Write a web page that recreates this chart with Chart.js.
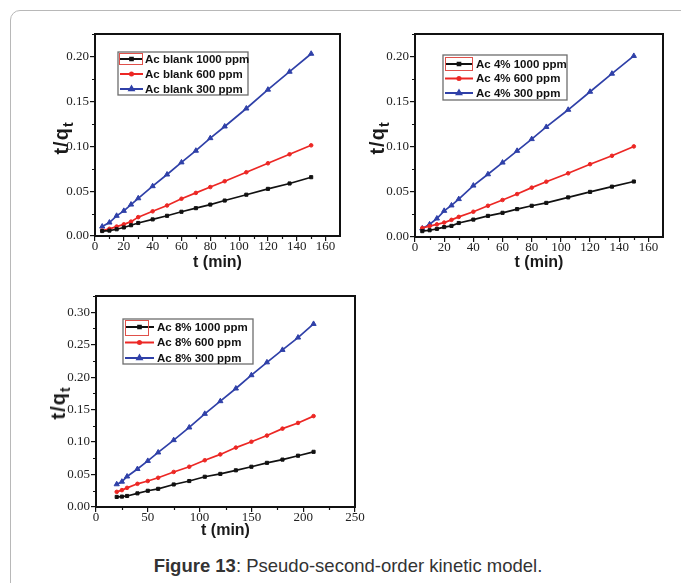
<!DOCTYPE html>
<html>
<head>
<meta charset="utf-8">
<script src="https://cdn.jsdelivr.net/npm/chart.js@4/dist/chart.umd.min.js"></script>
<style>
  html, body { margin: 0; padding: 0; background: #fff; }
  body { width: 681px; height: 583px; position: relative; overflow: hidden; font-family: "Liberation Sans", Arial, sans-serif; }
  .frame { position: absolute; left: 10px; top: 10px; width: 700px; height: 600px; border: 1px solid #b8b8b8; border-radius: 10px; }
  .panel { position: absolute; }
  .panel canvas { display: block; }
  .ytitle { position: absolute; transform: translate(-50%, -50%) rotate(-90deg); font-weight: bold; font-size: 20px; color: #1a1a1a; white-space: nowrap; letter-spacing: 1px; }
  .ytitle sub { font-size: 14px; vertical-align: -5px; }
  .caption { position: absolute; left: 0; width: 696px; top: 555px; text-align: center; font-size: 18.5px; color: #333; }
</style>
</head>
<body>
<div class="frame"></div>

<div class="panel" style="left:20px;top:20px"><canvas id="blankChart" width="330" height="262"></canvas></div>
<div class="panel" style="left:370px;top:20px"><canvas id="pct4Chart" width="305" height="265"></canvas></div>
<div class="panel" style="left:20px;top:282px"><canvas id="pct8Chart" width="350" height="265"></canvas></div>

<div class="ytitle" style="left:63px;top:138px">t/q<sub>t</sub></div>
<div class="ytitle" style="left:379px;top:138px">t/q<sub>t</sub></div>
<div class="ytitle" style="left:60px;top:403px">t/q<sub>t</sub></div>

<div class="caption"><b>Figure 13</b>: Pseudo-second-order kinetic model.</div>

<script>
// contact times (min)
const timeTop = [5, 10, 15, 20, 25, 30, 40, 50, 60, 70, 80, 90, 105, 120, 135, 150];
const time8 = [20, 25, 30, 40, 50, 60, 75, 90, 105, 120, 135, 150, 165, 180, 195, 210];

// t/qt, activated carbon blank
const blank1000 = [0.0055, 0.006, 0.0075, 0.0095, 0.012, 0.0145, 0.0185, 0.0225, 0.027, 0.031, 0.035, 0.0395, 0.046, 0.0525, 0.0585, 0.0655];
const blank600 = [0.006, 0.008, 0.0105, 0.013, 0.016, 0.021, 0.0275, 0.034, 0.0415, 0.048, 0.0545, 0.061, 0.071, 0.081, 0.091, 0.101];
const blank300 = [0.0105, 0.015, 0.0225, 0.028, 0.035, 0.042, 0.0555, 0.0685, 0.082, 0.095, 0.109, 0.122, 0.142, 0.163, 0.183, 0.203];

// t/qt, Ac 4%
const pct4_1000 = [0.0065, 0.0075, 0.009, 0.011, 0.0123, 0.0155, 0.0193, 0.0234, 0.0268, 0.0309, 0.0346, 0.0378, 0.0439, 0.050, 0.0558, 0.0615];
const pct4_600 = [0.010, 0.012, 0.014, 0.016, 0.019, 0.0223, 0.028, 0.0346, 0.041, 0.0476, 0.0547, 0.0613, 0.0706, 0.0807, 0.090, 0.1004];
const pct4_300 = [0.0095, 0.014, 0.0205, 0.029, 0.035, 0.042, 0.057, 0.0695, 0.0825, 0.0955, 0.1085, 0.122, 0.141, 0.161, 0.181, 0.2007];

// t/qt, Ac 8%
const pct8_1000 = [0.0155, 0.016, 0.017, 0.021, 0.025, 0.028, 0.0347, 0.040, 0.0466, 0.051, 0.0565, 0.062, 0.068, 0.073, 0.079, 0.085];
const pct8_600 = [0.0233, 0.026, 0.0295, 0.0357, 0.040, 0.045, 0.054, 0.062, 0.072, 0.081, 0.0915, 0.1005, 0.110, 0.1207, 0.1295, 0.140];
const pct8_300 = [0.035, 0.039, 0.047, 0.0585, 0.071, 0.084, 0.103, 0.1225, 0.1435, 0.163, 0.1825, 0.203, 0.2228, 0.242, 0.261, 0.282];

const BLACK = '#111111';
const RED = '#ec2724';
const BLUE = '#2f40a8';

function series(label, times, values, color, pointStyle, radius) {
  return {
    label,
    data: times.map((t, i) => ({ x: t, y: values[i] })),
    showLine: true,
    borderColor: color,
    backgroundColor: color,
    borderWidth: 1.7,
    pointStyle,
    pointRadius: radius,
    pointBorderWidth: 1,
    pointHoverRadius: radius
  };
}

// box around the plot area plus minor tick marks between the major ones
const boxAndMinorTicks = {
  id: 'boxAndMinorTicks',
  afterDraw(chart) {
    const { ctx, chartArea: a, scales: { x, y } } = chart;
    ctx.save();
    ctx.strokeStyle = BLACK;
    ctx.lineWidth = 1.2;
    const xStep = chart.options.scales.x.ticks.stepSize;
    const yStep = chart.options.scales.y.ticks.stepSize;
    ctx.beginPath();
    for (let v = x.min + xStep / 2; v < x.max; v += xStep) {
      const px = Math.round(x.getPixelForValue(v)) + 0.5;
      ctx.moveTo(px, a.bottom);
      ctx.lineTo(px, a.bottom + 3);
    }
    for (let v = y.min + yStep / 2; v < y.max; v += yStep) {
      const py = Math.round(y.getPixelForValue(v)) + 0.5;
      ctx.moveTo(a.left, py);
      ctx.lineTo(a.left - 3, py);
    }
    ctx.stroke();
    ctx.lineWidth = 2;
    ctx.strokeRect(a.left, a.top, a.right - a.left, a.bottom - a.top);
    ctx.restore();
  }
};

// legend boxed inside the plot, top-left
const insetLegend = {
  id: 'insetLegend',
  afterDatasetsDraw(chart, args, o) {
    const { ctx, chartArea: a } = chart;
    const x0 = a.left + o.left;
    const y0 = a.top + o.top;
    ctx.save();
    ctx.fillStyle = '#fff';
    ctx.fillRect(x0, y0, o.width, o.height);
    ctx.strokeStyle = '#6d6d6d';
    ctx.lineWidth = 1.3;
    ctx.strokeRect(x0, y0, o.width, o.height);

    ctx.font = 'bold 11.5px "Liberation Sans", Arial, sans-serif';
    ctx.textBaseline = 'middle';
    chart.data.datasets.forEach((ds, i) => {
      const cy = y0 + o.firstRow + i * o.rowH;
      const sx = x0 + o.sampleLeft;
      ctx.strokeStyle = ds.borderColor;
      ctx.fillStyle = ds.backgroundColor;
      ctx.lineWidth = 2;
      ctx.beginPath();
      ctx.moveTo(sx, cy);
      ctx.lineTo(sx + o.sampleWidth, cy);
      ctx.stroke();
      Chart.helpers.drawPoint(ctx, { pointStyle: ds.pointStyle, radius: ds.pointRadius * 0.85, borderWidth: 1, rotation: 0 }, sx + o.sampleWidth / 2, cy);
      ctx.fillStyle = '#111';
      ctx.fillText(ds.label, x0 + o.textLeft, cy + 0.5);
    });

    const r = o.mark;
    ctx.strokeStyle = '#e0504a';
    ctx.lineWidth = 1;
    ctx.strokeRect(x0 + r[0] + 0.5, y0 + r[1] + 0.5, r[2], r[3]);
    ctx.restore();
  }
};

function buildChart(id, cfg) {
  const tickFont = { family: '"Liberation Serif", "Times New Roman", serif', size: 13 };
  return new Chart(document.getElementById(id), {
    type: 'scatter',
    data: { datasets: cfg.datasets },
    options: {
      responsive: false,
      animation: false,
      events: [],
      layout: { padding: { left: 0, top: cfg.padTop, right: cfg.padRight, bottom: 0 } },
      plugins: {
        legend: { display: false },
        tooltip: { enabled: false },
        insetLegend: cfg.legend
      },
      scales: {
        x: {
          type: 'linear',
          min: 0,
          max: cfg.xMax,
          afterFit(scale) { scale.height = cfg.xHeight; },
          border: { display: true, color: BLACK, width: 2 },
          grid: { display: true, drawOnChartArea: false, drawTicks: true, tickLength: 5, color: BLACK, lineWidth: 1.2 },
          ticks: { stepSize: cfg.xStep, includeBounds: false, padding: -2, color: '#222', font: tickFont, maxRotation: 0 },
          title: {
            display: true,
            text: 't (min)',
            color: '#1a1a1a',
            font: { family: '"Liberation Sans", Arial, sans-serif', size: 16, weight: 'bold' },
            padding: { top: 0, bottom: cfg.titlePad }
          }
        },
        y: {
          type: 'linear',
          min: 0,
          max: cfg.yMax,
          afterFit(scale) { scale.width = cfg.yWidth; },
          border: { display: true, color: BLACK, width: 2 },
          grid: { display: true, drawOnChartArea: false, drawTicks: true, tickLength: 5, color: BLACK, lineWidth: 1.2 },
          ticks: { stepSize: 0.05, includeBounds: false, padding: 1, color: '#222', font: tickFont, callback: (v) => v.toFixed(2) }
        }
      }
    },
    plugins: [boxAndMinorTicks, insetLegend]
  });
}

buildChart('blankChart', {
  datasets: [
    series('Ac blank 1000 ppm', timeTop, blank1000, BLACK, 'rect', 2.2),
    series('Ac blank 600 ppm', timeTop, blank600, RED, 'circle', 1.8),
    series('Ac blank 300 ppm', timeTop, blank300, BLUE, 'triangle', 3)
  ],
  xMax: 170, xStep: 20, yMax: 0.225,
  yWidth: 75, xHeight: 46, padTop: 14, padRight: 10, titlePad: 10,
  legend: { left: 23, top: 18, width: 130, height: 43, firstRow: 7, rowH: 15, sampleLeft: 2, sampleWidth: 23, textLeft: 27, mark: [1, 1, 23, 11] }
});

buildChart('pct4Chart', {
  datasets: [
    series('Ac 4% 1000 ppm', timeTop, pct4_1000, BLACK, 'rect', 2.2),
    series('Ac 4% 600 ppm', timeTop, pct4_600, RED, 'circle', 1.8),
    series('Ac 4% 300 ppm', timeTop, pct4_300, BLUE, 'triangle', 3)
  ],
  xMax: 170, xStep: 20, yMax: 0.225,
  yWidth: 45, xHeight: 48, padTop: 14, padRight: 12, titlePad: 13,
  legend: { left: 28, top: 21, width: 124, height: 45, firstRow: 9, rowH: 14.5, sampleLeft: 2, sampleWidth: 28, textLeft: 33, mark: [2, 2, 27, 13] }
});

buildChart('pct8Chart', {
  datasets: [
    series('Ac 8% 1000 ppm', time8, pct8_1000, BLACK, 'rect', 2.2),
    series('Ac 8% 600 ppm', time8, pct8_600, RED, 'circle', 1.8),
    series('Ac 8% 300 ppm', time8, pct8_300, BLUE, 'triangle', 3)
  ],
  xMax: 250, xStep: 50, yMax: 0.325,
  yWidth: 76, xHeight: 40, padTop: 14, padRight: 15, titlePad: 7,
  legend: { left: 27, top: 23, width: 130, height: 45, firstRow: 8, rowH: 15.5, sampleLeft: 2, sampleWidth: 29, textLeft: 34, mark: [2, 1, 23, 15] }
});
</script>
</body>
</html>
